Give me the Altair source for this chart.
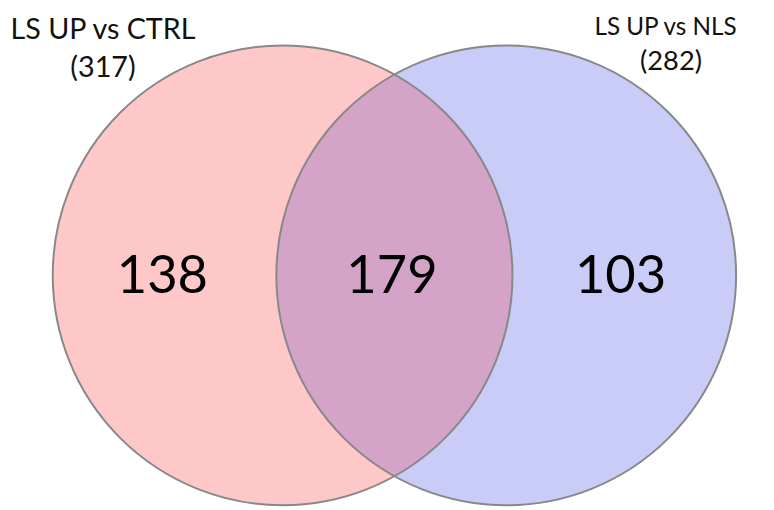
import altair as alt
import pandas as pd
import numpy as np

# ---- data ----
set_names = ["LS UP vs CTRL", "LS UP vs NLS"]
set_totals = [317, 282]
region_names = ["CTRL only", "Both", "NLS only"]
region_counts = [138, 179, 103]

# ---- layout (page pixel coordinates) ----
M = 8
W, H = 766, 502
circle_cx = [285.5, 511.5]
circle_cy = [275.5, 275.5]
circle_r = 232.3
fills = ["#FFC8C8", "#CACCF8"]
lens_fill = "#D4A4C8"
stroke_col = "#888888"

xs = alt.Scale(domain=[M, M + W], nice=False, zero=False)
ys = alt.Scale(domain=[M, M + H], nice=False, zero=False, reverse=True)
X = lambda f: alt.X(f, type="quantitative", scale=xs, axis=None)
Y = lambda f: alt.Y(f, type="quantitative", scale=ys, axis=None)

size = (2 * circle_r) ** 2  # vega circle symbol: r = sqrt(size)/2

circles = pd.DataFrame({"set": set_names, "x": circle_cx, "y": circle_cy, "fill": fills})

fill_layer = alt.Chart(circles).mark_point(
    filled=True, shape="circle", size=size, opacity=1, strokeWidth=0
).encode(x=X("x"), y=Y("y"), color=alt.Color("fill:N", scale=None))

# lens (intersection) region derived from the two circles
half_d = (circle_cx[1] - circle_cx[0]) / 2
mid = (circle_cx[0] + circle_cx[1]) / 2
lw = circle_r - half_d
t = np.linspace(0, np.pi, 500)
lx = mid - lw * np.cos(t)
h1 = np.sqrt(np.clip(circle_r**2 - (lx - circle_cx[0]) ** 2, 0, None))
h2 = np.sqrt(np.clip(circle_r**2 - (lx - circle_cx[1]) ** 2, 0, None))
hh = np.minimum(h1, h2)
lens = pd.DataFrame({"x": lx, "y": circle_cy[0] - hh, "y2": circle_cy[0] + hh})
lens_layer = alt.Chart(lens).mark_area(color=lens_fill, opacity=1).encode(
    x=X("x"), y=Y("y"), y2="y2"
)

stroke_layer = alt.Chart(circles).mark_point(
    filled=False, shape="circle", size=size, opacity=1, color=stroke_col, strokeWidth=2
).encode(x=X("x"), y=Y("y"))

titles = pd.DataFrame({
    "label": set_names,
    "x": [104, 672.5],
    "y": [37, 33],
    "fs": [29, 24.5],
})
title_layer = alt.Chart(titles).mark_text(
    font="Lato", baseline="alphabetic", align="center", color="#111111"
).encode(x=X("x"), y=Y("y"), text="label:N", size=alt.Size("fs:Q", scale=None))

totals = pd.DataFrame({
    "label": [f"({v})" for v in set_totals],
    "x": [104, 678],
    "y": [75, 68],
    "fs": [29, 27.5],
})
total_layer = alt.Chart(totals).mark_text(
    font="Lato", baseline="alphabetic", align="center", color="#111111"
).encode(x=X("x"), y=Y("y"), text="label:N", size=alt.Size("fs:Q", scale=None))

regions = pd.DataFrame({
    "region": region_names,
    "count": region_counts,
    "x": [164, 396, 627],
    "y": [293, 293, 293],
})
count_layer = alt.Chart(regions).mark_text(
    font="Lato", fontSize=53, baseline="alphabetic", align="center", color="#000000"
).encode(x=X("x"), y=Y("y"), text="count:Q")

chart = alt.layer(
    fill_layer, lens_layer, stroke_layer, title_layer, total_layer, count_layer
).properties(
    width=W, height=H, padding=0, autosize=alt.AutoSizeParams(type="none")
).configure_view(stroke=None)

chart.save("out.html", embed_options={"renderer": "svg", "actions": False})
